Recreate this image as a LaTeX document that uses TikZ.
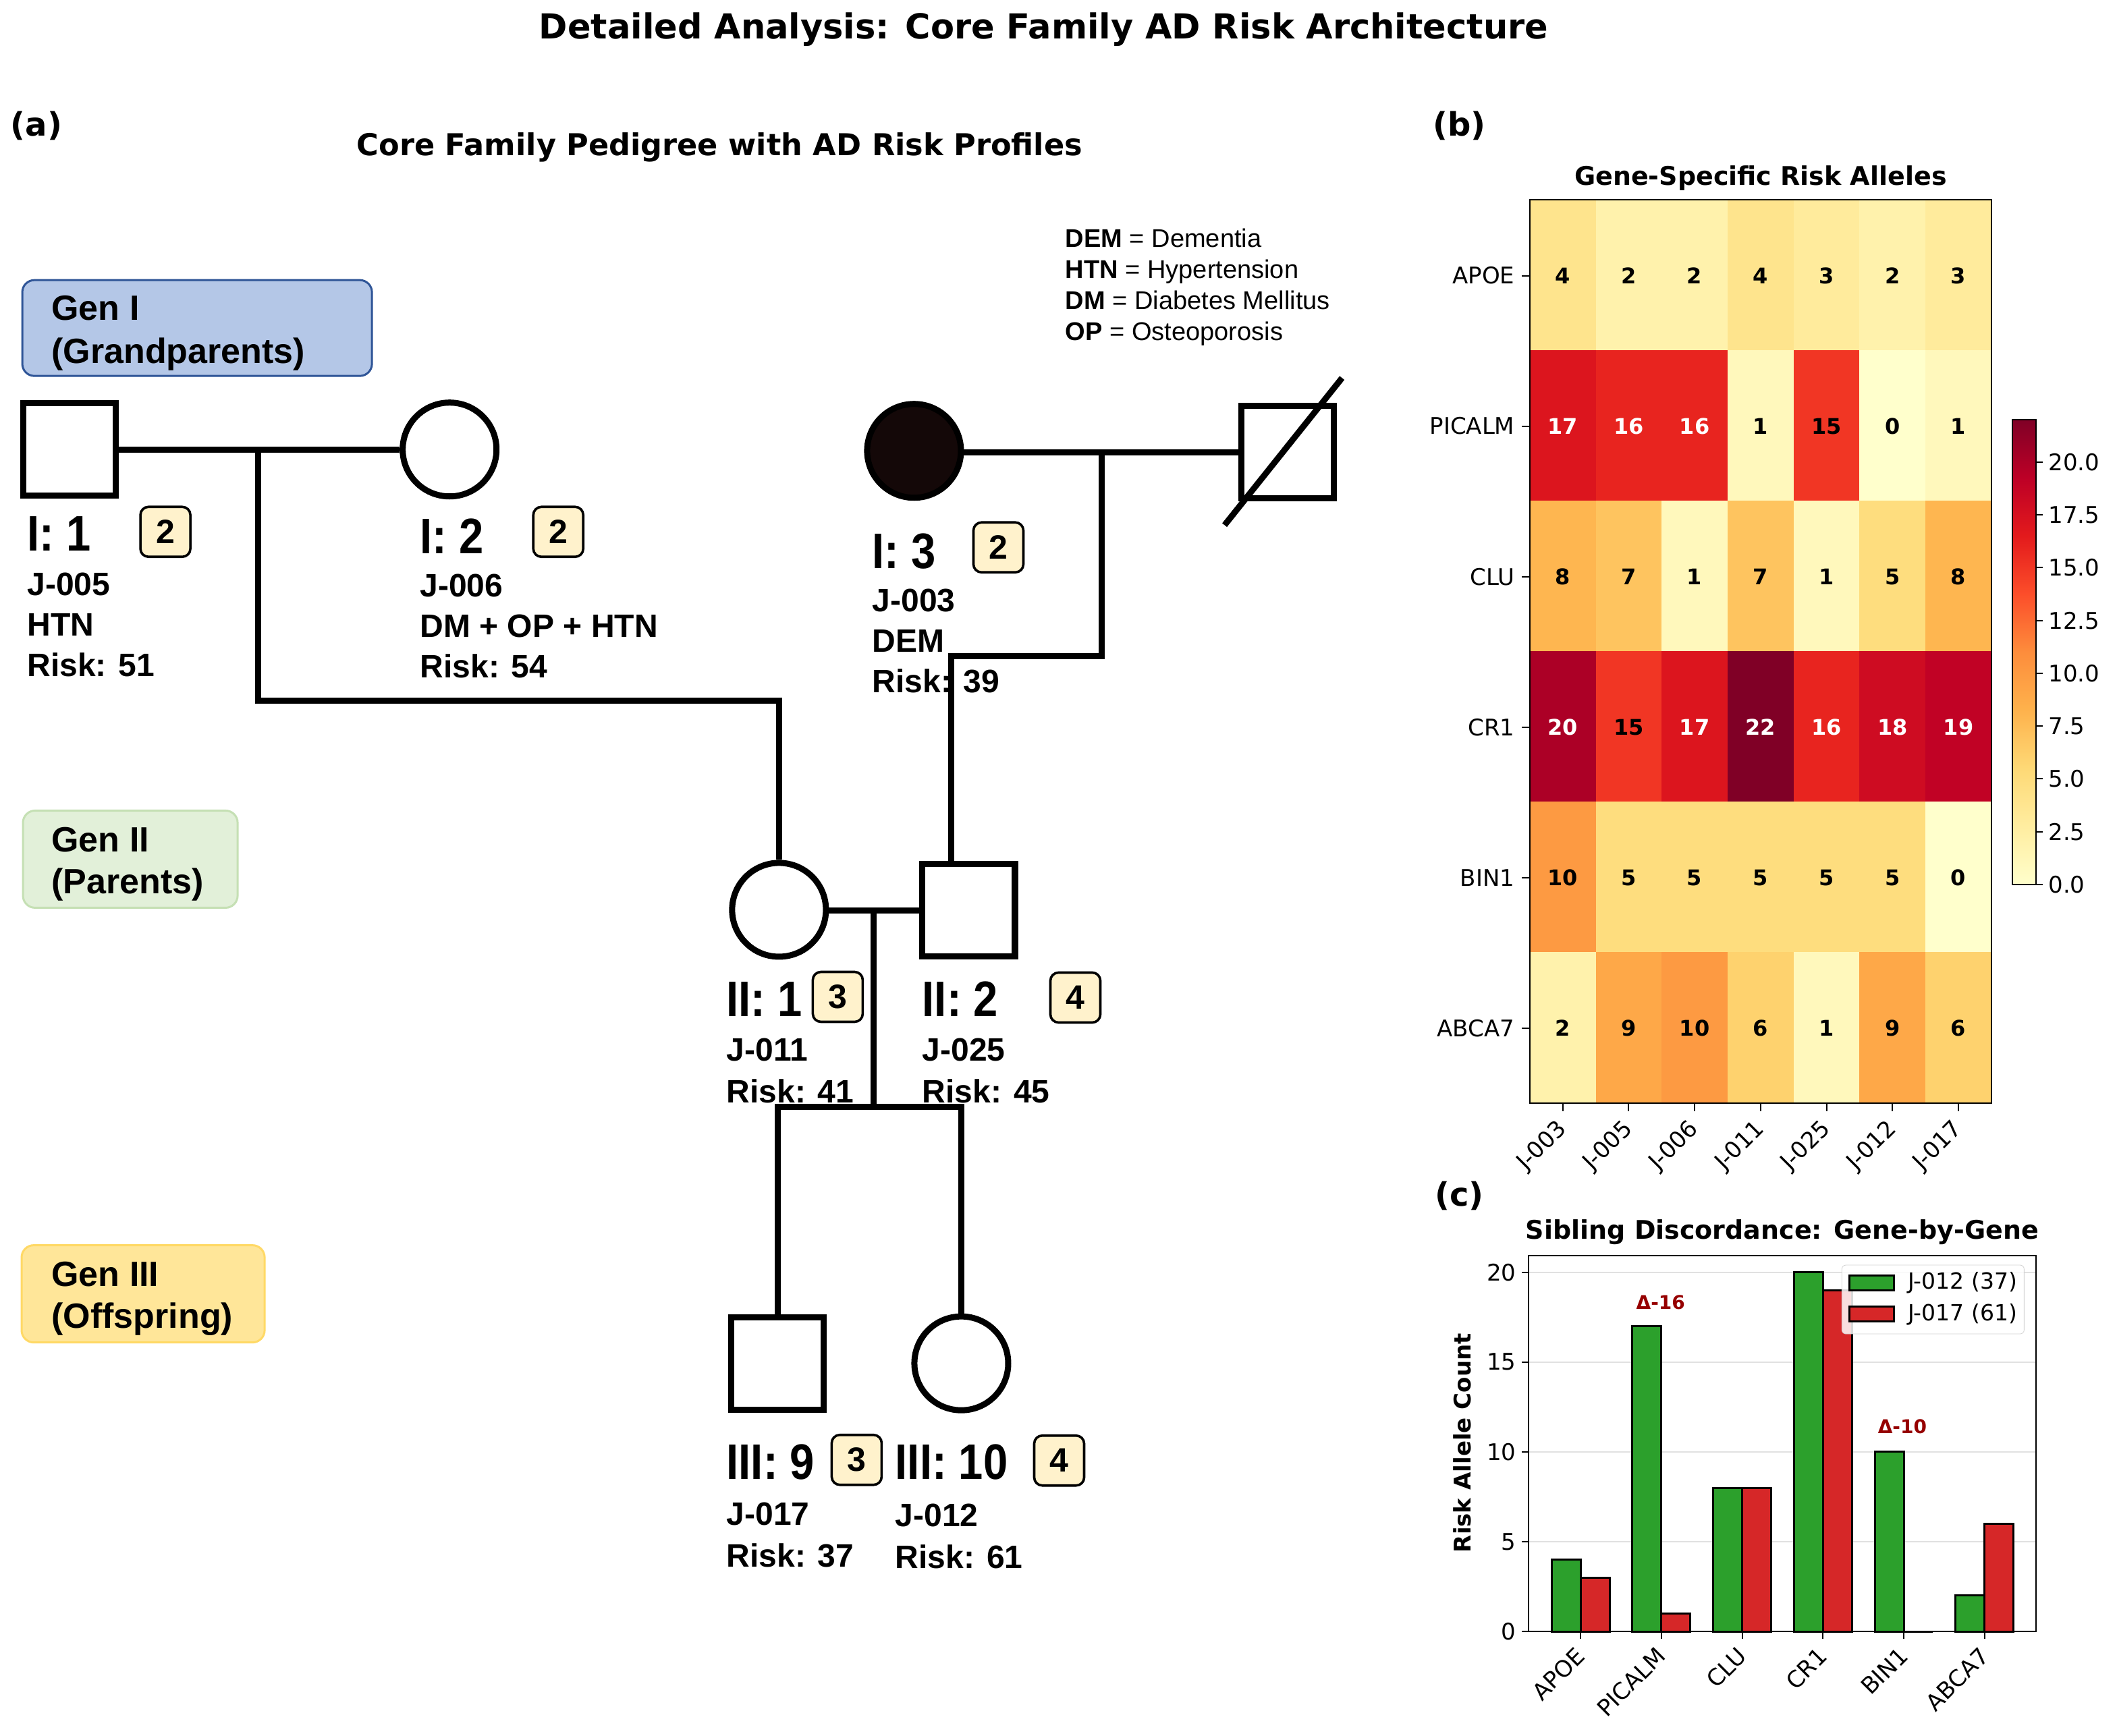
\documentclass[tikz,border=0pt]{standalone}
\usepackage{fontspec}
\setmainfont{DejaVu Sans}
\newfontfamily\hv{Liberation Sans}
\newfontfamily\hvn[FakeStretch=0.88]{Liberation Sans}
\usetikzlibrary{calc}
\newcommand\myfs[1]{\fontsize{#1}{#1}\selectfont}
% heatmap colours (YlOrRd, vmax 22)
\definecolor{hm0}{RGB}{255,255,204}
\definecolor{hm1}{RGB}{255,248,188}
\definecolor{hm2}{RGB}{255,242,172}
\definecolor{hm3}{RGB}{255,235,156}
\definecolor{hm4}{RGB}{254,228,141}
\definecolor{hm5}{RGB}{254,221,126}
\definecolor{hm6}{RGB}{254,210,110}
\definecolor{hm7}{RGB}{254,196,95}
\definecolor{hm8}{RGB}{254,182,80}
\definecolor{hm9}{RGB}{254,168,72}
\definecolor{hm10}{RGB}{253,154,66}
\definecolor{hm15}{RGB}{241,54,36}
\definecolor{hm16}{RGB}{232,36,31}
\definecolor{hm17}{RGB}{220,21,30}
\definecolor{hm18}{RGB}{206,12,34}
\definecolor{hm19}{RGB}{193,2,37}
\definecolor{hm20}{RGB}{172,0,38}
\definecolor{hm22}{RGB}{128,0,38}
\definecolor{cb0}{RGB}{255,255,204}
\definecolor{cb1}{RGB}{255,237,160}
\definecolor{cb2}{RGB}{254,217,118}
\definecolor{cb3}{RGB}{254,178,76}
\definecolor{cb4}{RGB}{253,141,60}
\definecolor{cb5}{RGB}{252,78,42}
\definecolor{cb6}{RGB}{227,26,28}
\definecolor{cb7}{RGB}{189,0,38}
\definecolor{cb8}{RGB}{128,0,38}
\pgfdeclareverticalshading{ylorrd}{100bp}{color(0bp)=(cb0); color(25bp)=(cb0); color(31.25bp)=(cb1); color(37.5bp)=(cb2); color(43.75bp)=(cb3); color(50bp)=(cb4); color(56.25bp)=(cb5); color(62.5bp)=(cb6); color(68.75bp)=(cb7); color(75bp)=(cb8); color(100bp)=(cb8)}
\definecolor{g1f}{RGB}{180,199,231}
\definecolor{g1d}{RGB}{47,85,151}
\definecolor{g2f}{RGB}{226,240,217}
\definecolor{g2d}{RGB}{197,224,180}
\definecolor{g3f}{RGB}{255,230,153}
\definecolor{g3d}{RGB}{255,217,102}
\definecolor{badgef}{RGB}{255,242,204}
\definecolor{affect}{RGB}{20,8,8}
\definecolor{barg}{RGB}{44,160,44}
\definecolor{barr}{RGB}{214,39,40}
\definecolor{dred}{RGB}{150,0,0}
\definecolor{gridc}{RGB}{225,225,225}
\tikzset{
  pline/.style={line width=4.5pt, line join=miter},
  sqn/.style={draw, rectangle, line width=4.5pt, minimum size=68.5pt, inner sep=0pt},
  cin/.style={draw, circle, line width=4.5pt, minimum size=69.5pt, inner sep=0pt},
  badge/.style={draw, line width=1.8pt, rounded corners=6pt, fill=badgef, minimum size=37pt, inner sep=0pt, font=\hv\bfseries\myfs{25}},
  idt/.style={anchor=base west, inner sep=0pt, font=\hvn\bfseries\myfs{37}},
  inf/.style={anchor=base west, inner sep=0pt, font=\hv\bfseries\myfs{24}},
  genbox/.style={rectangle, rounded corners=9pt, line width=1.5pt, inner sep=0pt},
  gent/.style={anchor=base west, inner sep=0pt, font=\hv\bfseries\myfs{26}},
  legt/.style={anchor=base west, inner sep=0pt, font=\hv\myfs{19}},
  ptitle/.style={font=\bfseries\myfs{19}, inner sep=0pt},
  tick/.style={line width=1pt},
  tlab/.style={font=\myfs{17}, inner sep=0pt},
  hnum/.style={font=\bfseries\myfs{16}, inner sep=0pt},
}
\begin{document}
\begin{tikzpicture}[x=1pt,y=-1pt]
\useasboundingbox[fill=white] (0,0) rectangle (1568,1286);
% titles
\node[font=\bfseries\myfs{25.5}, inner sep=0pt] (title) at (773,22) {Detailed Analysis: Core Family AD Risk Architecture};
\node[font=\bfseries\myfs{24}, inner sep=0pt] (pa) at (27,93) {(a)};
\node[font=\bfseries\myfs{24}, inner sep=0pt] (pb) at (1081,93) {(b)};
\node[font=\bfseries\myfs{24}, inner sep=0pt] (pc) at (1081,886) {(c)};
\node[font=\bfseries\myfs{22.3}, inner sep=0pt] (subt) at (533,109) {Core Family Pedigree with AD Risk Profiles};
% generation boxes
\node[genbox, fill=g1f, draw=g1d, minimum width=259pt, minimum height=71pt] (G1) at (146,243) {};
\node[gent] (G1a) at (38,237) {Gen I};
\node[gent] (G1b) at (38,269) {(Grandparents)};
\node[genbox, fill=g2f, draw=g2d, minimum width=159pt, minimum height=72pt] (G2) at (96.5,636.5) {};
\node[gent] (G2a) at (38,631) {Gen II};
\node[gent] (G2b) at (38,662) {(Parents)};
\node[genbox, fill=g3f, draw=g3d, minimum width=180pt, minimum height=72pt] (G3) at (106,958.5) {};
\node[gent] (G3a) at (38,953) {Gen III};
\node[gent] (G3b) at (38,984) {(Offspring)};
% legend
\node[legt] (L1) at (789,183) {\textbf{DEM} = Dementia};
\node[legt] (L2) at (789,206) {\textbf{HTN} = Hypertension};
\node[legt] (L3) at (789,229) {\textbf{DM} = Diabetes Mellitus};
\node[legt] (L4) at (789,252) {\textbf{OP} = Osteoporosis};
% individuals
\node[sqn] (I1) at (51.5,333) {};
\node[cin] (I2) at (333,333) {};
\node[cin, fill=affect] (I3) at (677,334) {};
\node[sqn] (I4) at (953.5,335) {};
\node[cin] (II1) at (577,674) {};
\node[sqn] (II2) at (717.5,674.5) {};
\node[sqn] (III9) at (576,1010) {};
\node[cin] (III10) at (712,1010) {};
% deceased slash
\draw[line width=4.5pt] ($(I4.center)+(-46.5,54)$) -- ($(I4.center)+(40.5,-55)$);
% connectors
\coordinate (m1) at (191,333);
\coordinate (k1) at (191,519);
\draw[pline] (I1.east) -- (I2.west);
\draw[pline] (m1) -- (k1) -| (II1.north);
\draw[pline] (I3.east |- I4.west) -- (I4.west);
\coordinate (m2) at (816,335);
\coordinate (k2) at (816,486);
\coordinate (d2) at ($(II2.north west)!0.32!(II2.north east)$);
\draw[pline] (m2) -- (k2) -| (d2);
\draw[pline] (II1.east |- II2.west) -- (II2.west);
\coordinate (m3) at (647,675);
\coordinate (k3) at (647,820);
\draw[pline] (m3) -- (k3);
\draw[pline] (III9.north) -- (III9.north |- k3) -- (III10.north |- k3) -- (III10.north);
% labels
\node[idt] (I1id) at (20,408) {I: 1};
\node[badge] (I1b) at (122.5,394) {2};
\node[inf] (I1j) at (20,441) {J-005};
\node[inf] (I1d) at (20,471) {HTN};
\node[inf] (I1r) at (20,501) {Risk: 51};
\node[idt] (I2id) at (311,410) {I: 2};
\node[badge] (I2b) at (413.5,394) {2};
\node[inf] (I2j) at (311,442) {J-006};
\node[inf] (I2d) at (311,472) {DM + OP + HTN};
\node[inf] (I2r) at (311,502) {Risk: 54};
\node[idt] (I3id) at (646,421) {I: 3};
\node[badge] (I3b) at (739.5,405.5) {2};
\node[inf] (I3j) at (646,453) {J-003};
\node[inf] (I3d) at (646,483) {DEM};
\node[inf] (I3r) at (646,513) {Risk: 39};
\node[idt] (II1id) at (538,753) {II: 1};
\node[badge] (II1b) at (620.5,738.5) {3};
\node[inf] (II1j) at (538,786) {J-011};
\node[inf] (II1r) at (538,817) {Risk: 41};
\node[idt] (II2id) at (683,753) {II: 2};
\node[badge] (II2b) at (796.5,739) {4};
\node[inf] (II2j) at (683,786) {J-025};
\node[inf] (II2r) at (683,817) {Risk: 45};
\node[idt] (III9id) at (538,1096) {III: 9};
\node[badge] (III9b) at (634.5,1081.5) {3};
\node[inf] (III9j) at (538,1130) {J-017};
\node[inf] (III9r) at (538,1161) {Risk: 37};
\node[idt] (III10id) at (663,1096) {III: 10};
\node[badge] (III10b) at (784.5,1082) {4};
\node[inf] (III10j) at (663,1131) {J-012};
\node[inf] (III10r) at (663,1162) {Risk: 61};
% ---------------- heatmap (b)
\node[ptitle] (hmt) at (1304,132) {Gene-Specific Risk Alleles};
\foreach \row [count=\r from 0] in {{4,2,2,4,3,2,3},{17,16,16,1,15,0,1},{8,7,1,7,1,5,8},{20,15,17,22,16,18,19},{10,5,5,5,5,5,0},{2,9,10,6,1,9,6}} {
  \foreach \v [count=\c from 0] in \row {
    \def\tc{black}\ifnum\v>15 \def\tc{white}\fi
    \fill[fill=hm\v] (1133+\c*48.857,148+\r*111.5) rectangle ++(48.857,111.5);
    \node[hnum, text=\tc] (h\r-\c) at (1157.43+\c*48.857,204.2+\r*111.5) {\v};
  }
}
\draw[line width=1pt] (1133,148) rectangle (1475,817);
\foreach \g [count=\r from 0] in {APOE,PICALM,CLU,CR1,BIN1,ABCA7} {
  \draw[tick] (1127,204.2+\r*111.5) -- (1133,204.2+\r*111.5);
  \node[tlab, anchor=east] (hy\r) at (1122,204.2+\r*111.5) {\g};
}
\foreach \j [count=\c from 0] in {J-003,J-005,J-006,J-011,J-025,J-012,J-017} {
  \draw[tick] (1157.43+\c*48.857,817) -- (1157.43+\c*48.857,823);
  \node[tlab, rotate=45, anchor=north east] (hx\c) at (1152+\c*48.857,828) {\j};
}
% colorbar
\shade[shading=ylorrd] (1490.5,311) rectangle (1508,655.3);
\draw[line width=1pt] (1490.5,311) rectangle (1508,655.3);
\foreach \v/\t in {0/0.0,2.5/2.5,5/5.0,7.5/7.5,10/10.0,12.5/12.5,15/15.0,17.5/17.5,20/20.0} {
  \draw[tick] (1508,655.3-\v*15.65) -- (1513,655.3-\v*15.65);
  \node[tlab, anchor=west] (cb\t) at (1517,655.3-\v*15.65) {\t};
}
% ---------------- bar chart (c)
\node[ptitle] (bct) at (1320,913) {Sibling Discordance: Gene-by-Gene};
\foreach \v in {5,10,15,20} {
  \draw[gridc, line width=1pt] (1132,1208.7-\v*13.31) -- (1508,1208.7-\v*13.31);
}
\foreach \g/\a/\b [count=\i from 0] in {APOE/4/3,PICALM/17/1,CLU/8/8,CR1/20/19,BIN1/10/0,ABCA7/2/6} {
  \filldraw[fill=barg, draw=black, line width=1.5pt] (1149.2+\i*59.86,1208.7) rectangle (1170.7+\i*59.86,1208.7-\a*13.31);
  \filldraw[fill=barr, draw=black, line width=1.5pt] (1170.7+\i*59.86,1208.7) rectangle (1192.2+\i*59.86,1208.7-\b*13.31);
  \draw[tick] (1170.7+\i*59.86,1208.7) -- (1170.7+\i*59.86,1214);
  \node[tlab, rotate=45, anchor=north east] (bx\i) at (1166+\i*59.86,1219) {\g};
}
\draw[line width=1pt] (1132,930) rectangle (1508,1208.7);
\foreach \v in {0,5,10,15,20} {
  \draw[tick] (1127,1208.7-\v*13.31) -- (1132,1208.7-\v*13.31);
  \node[tlab, anchor=east] (by\v) at (1123,1208.7-\v*13.31) {\v};
}
\node[font=\bfseries\myfs{17}, rotate=90, inner sep=0pt] (ylab) at (1083,1069) {Risk Allele Count};
\node[font=\bfseries\myfs{14}, text=dred, inner sep=0pt] (d16) at (1230,965) {Δ-16};
\node[font=\bfseries\myfs{14}, text=dred, inner sep=0pt] (d10) at (1409,1057) {Δ-10};
% legend
\node[draw=gray!35, fill=white, fill opacity=0.85, rounded corners=3pt, minimum width=135pt, minimum height=51pt, anchor=north west, inner sep=0pt] (leg) at (1364,937) {};
\filldraw[fill=barg, draw=black, line width=1.5pt] (1370,945) rectangle (1403,956);
\filldraw[fill=barr, draw=black, line width=1.5pt] (1370,968) rectangle (1403,979);
\node[font=\myfs{16.5}, anchor=west, inner sep=0pt] (lg1) at (1413,950.5) {J-012 (37)};
\node[font=\myfs{16.5}, anchor=west, inner sep=0pt] (lg2) at (1413,973.6) {J-017 (61)};
\end{tikzpicture}
\end{document}
